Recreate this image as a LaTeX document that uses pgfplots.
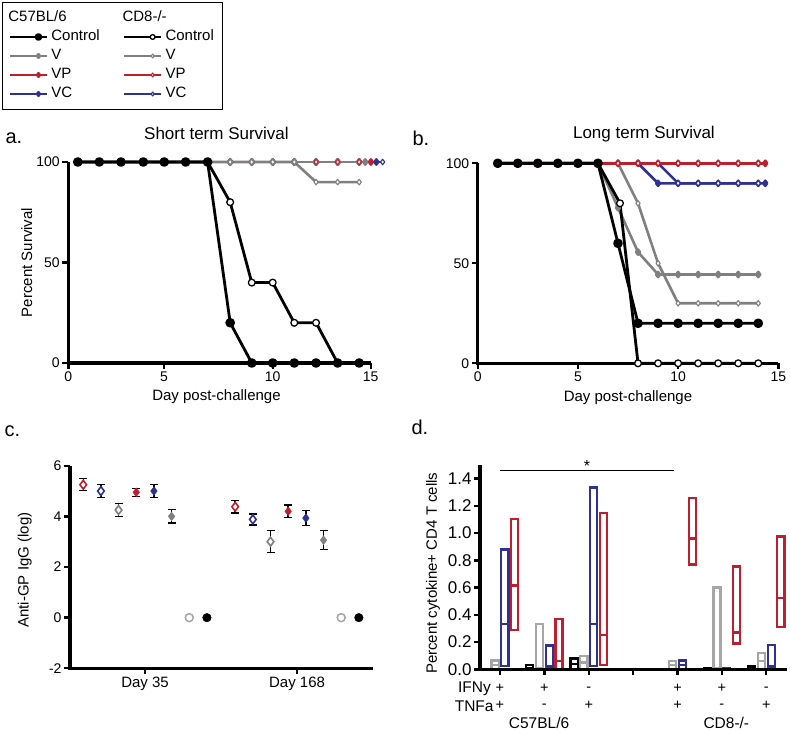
\documentclass[border=0pt]{standalone}
\usepackage{fontspec}
\setmainfont{Liberation Sans}
\usepackage{pgfplots}
\pgfplotsset{compat=1.18}
\usepgfplotslibrary{statistics}
\definecolor{cred}{RGB}{190,30,45}
\definecolor{cblue}{RGB}{46,49,146}
\definecolor{cgray}{RGB}{128,128,128}
\definecolor{lgray}{RGB}{166,166,166}
\newcommand{\fs}[1]{\fontsize{#1}{#1}\selectfont}

\pgfplotsset{
  panel/.style={
    scale only axis, clip=false,
    axis lines=left,
    axis line style={-},
    tick align=outside, major tick length=5pt,
    /pgf/number format/assume math mode=true,
    tick label style={font=\fs{14}},
    label style={font=\fs{15}},
  },
  fblack/.style={black, line width=2.8pt, line join=round, mark=*, mark size=3.4pt},
  oblack/.style={black, line width=2.8pt, line join=round, mark=*, mark size=3.4pt,
                 mark options={fill=white, line width=1.3pt}},
  fgray/.style={cgray, line width=2.6pt, line join=round, mark=diamond*, mark size=2.6pt},
  ogray/.style={cgray, line width=2.6pt, line join=round, mark=diamond*, mark size=2.8pt,
                mark options={fill=white, line width=1.1pt}},
  fred/.style={cred, line width=2.5pt, line join=round, mark=diamond*, mark size=2.6pt},
  ored/.style={cred, line width=2.5pt, line join=round, mark=diamond*, mark size=2.8pt,
               mark options={fill=white, line width=1.1pt}},
  fblue/.style={cblue, line width=2.5pt, line join=round, mark=diamond*, mark size=2.6pt},
  oblue/.style={cblue, line width=2.5pt, line join=round, mark=diamond*, mark size=2.8pt,
                mark options={fill=white, line width=1.1pt}},
  ebars/.style={error bars/.cd, y dir=both, y explicit,
                error bar style={black, line width=1.4pt},
                error mark options={rotate=90, black, line width=1.4pt, mark size=4pt}},
}

% heavy axis frame (left and bottom) with outward ticks
\newcommand{\frameaxes}[2]{%
  \draw[line width=3.2pt] (rel axis cs:0,1) -- (rel axis cs:0,0) -- (rel axis cs:1,0);
  \pgfplotsinvokeforeach{#1}{\draw[line width=2.4pt] (axis cs:##1,\pgfkeysvalueof{/pgfplots/ymin}) -- ++(0pt,-6pt);}
  \pgfplotsinvokeforeach{#2}{\draw[line width=2.4pt] (axis cs:\pgfkeysvalueof{/pgfplots/xmin},##1) -- ++(-6pt,0pt);}}

% box with median line: #1 colour, #2 position, #3 low, #4 median, #5 high
\newcommand{\bx}[5]{%
  \addplot[#1, line width=2.2pt, fill=white, boxplot/draw direction=y,
    boxplot prepared={draw position=#2, lower whisker=#3, lower quartile=#3,
      median=#4, upper quartile=#5, upper whisker=#5, box extend=0.16,
      whisker extend=0.16}] coordinates {};}

\begin{document}
\begin{tikzpicture}
\useasboundingbox (0pt,0pt) rectangle (790pt,731pt);

% ---------------- a. short term survival ----------------
\begin{axis}[panel, at={(68.3pt,368pt)}, anchor=south west,
  width=302.4pt, height=201pt,
  xmin=0, xmax=15, ymin=0, ymax=100,
  xtick={0,4.75,10.14,15}, xticklabels={0,5,10,15},
  ytick={0,50,100},
  xlabel={Day post-challenge}, ylabel={Percent Survival},
  xlabel style={at={(axis description cs:0.49,-0.169)}, anchor=center},
  ylabel style={at={(axis description cs:-0.137,0.5)}, anchor=center},
  title={Short term Survival},
  title style={at={(axis description cs:0.49,1.114)}, anchor=center, font=\fs{17}},
  legend columns=2, legend cell align=left,
  legend style={at={(axis description cs:-0.219,1.796)}, anchor=north west,
    draw=black, line width=1pt, inner sep=6pt, font=\fs{15},
    nodes={inner xsep=3pt, inner ysep=2.5pt, text height=11pt, text depth=3pt},
    /tikz/column 2/.style={column sep=20pt}},
  legend image code/.code={\path (-20pt,0pt) -- (0pt,0pt);
    \draw[mark repeat=2, mark phase=2] plot coordinates {(0pt,0pt) (8.5pt,0pt) (17pt,0pt)};},
]
\addlegendimage{empty legend}\addlegendentry{\hspace*{-43pt}C57BL/6}
\addlegendimage{empty legend}\addlegendentry{\hspace*{-43pt}CD8-/-}
\addlegendimage{fblack, mark size=2.4pt}\addlegendentry{Control}
\addlegendimage{oblack, mark size=2.4pt}\addlegendentry{Control}
\addlegendimage{fgray, mark size=1.8pt}\addlegendentry{V}
\addlegendimage{ogray, mark size=2pt}\addlegendentry{V}
\addlegendimage{fred, mark size=1.8pt}\addlegendentry{VP}
\addlegendimage{ored, mark size=2pt}\addlegendentry{VP}
\addlegendimage{fblue, mark size=1.8pt}\addlegendentry{VC}
\addlegendimage{oblue, mark size=2pt}\addlegendentry{VC}
\frameaxes{0,4.75,10.14,15}{0,50,100}

% CD8-/- VC
\addplot[oblue, forget plot] coordinates {(0.47,100)(1.54,100)(2.61,100)(3.72,100)(4.76,100)(5.82,100)(6.91,100)(8.03,100)(9.10,100)(10.14,100)(11.21,100)(12.29,100)(13.36,100)(14.43,100)(15.59,100)};
% C57BL/6 VC
\addplot[fblue, forget plot] coordinates {(0.47,100)(1.54,100)(2.61,100)(3.72,100)(4.76,100)(5.82,100)(6.91,100)(8.03,100)(9.10,100)(10.14,100)(11.21,100)(12.29,100)(13.36,100)(14.43,100)(15.28,100)};
% C57BL/6 VP
\addplot[fred, forget plot] coordinates {(0.47,100)(1.54,100)(2.61,100)(3.72,100)(4.76,100)(5.82,100)(6.91,100)(8.03,100)(9.10,100)(10.14,100)(11.21,100)(12.29,100)(13.36,100)(14.43,100)(15.01,100)};
% C57BL/6 V
\addplot[fgray, forget plot] coordinates {(0.47,100)(1.54,100)(2.61,100)(3.72,100)(4.76,100)(5.82,100)(6.91,100)(8.03,100)(9.10,100)(10.14,100)(11.21,100)(12.29,100)(13.36,100)(14.43,100)(14.73,100)};
% CD8-/- V
\addplot[ogray, forget plot] coordinates {(0.47,100)(1.54,100)(2.61,100)(3.72,100)(4.76,100)(5.82,100)(6.91,100)(8.03,100)(9.10,100)(10.14,100)(11.21,100)(12.29,90)(13.36,90)(14.43,90)};
% CD8-/- VP (visible points)
\addplot[ored, only marks, forget plot] coordinates {(12.29,100)(13.36,100)(14.43,100)};
% CD8-/- Control
\addplot[oblack, forget plot] coordinates {(0.47,100)(1.54,100)(2.61,100)(3.72,100)(4.76,100)(5.82,100)(6.91,100)(8.03,80)(9.10,40)(10.14,40)(11.21,20)(12.29,20)(13.36,0)(14.43,0)};
% C57BL/6 Control
\addplot[fblack, forget plot] coordinates {(0.47,100)(1.54,100)(2.61,100)(3.72,100)(4.76,100)(5.82,100)(6.91,100)(8.03,20)(9.10,0)(10.14,0)(11.21,0)(12.29,0)(13.36,0)(14.43,0)};
\end{axis}

% ---------------- b. long term survival ----------------
\begin{axis}[panel, at={(477.7pt,367.7pt)}, anchor=south west,
  width=300.6pt, height=200pt,
  xmin=0, xmax=15, ymin=0, ymax=100,
  xtick={0,5,10,15}, ytick={0,50,100},
  xlabel={Day post-challenge},
  xlabel style={at={(axis description cs:0.5,-0.17)}, anchor=center},
  title={Long term Survival},
  title style={at={(axis description cs:0.553,1.117)}, anchor=center, font=\fs{17}},
]
\frameaxes{0,5,10,15}{0,50,100}
\addplot[fblue] coordinates {(1,100)(2,100)(3,100)(4,100)(5,100)(6,100)(7,100)(8,100)(9,90)(10,90)(11,90)(12,90)(13,90)(14,90)(14.35,90)};
\addplot[oblue] coordinates {(1,100)(2,100)(3,100)(4,100)(5,100)(6,100)(7,100)(8,100)(9,100)(10,90)(11,90)(12,90)(13,90)(14,90)};
\addplot[fgray] coordinates {(1,100)(2,100)(3,100)(4,100)(5,100)(6,100)(7,77.8)(8,55.6)(9,44.4)(10,44.4)(11,44.4)(12,44.4)(13,44.4)(14,44.4)};
\addplot[ogray] coordinates {(1,100)(2,100)(3,100)(4,100)(5,100)(6,100)(7,100)(8,80)(9,50)(10,30)(11,30)(12,30)(13,30)(14,30)};
\addplot[fred] coordinates {(1,100)(2,100)(3,100)(4,100)(5,100)(6,100)(7,100)(8,100)(9,100)(10,100)(11,100)(12,100)(13,100)(14,100)(14.35,100)};
\addplot[ored] coordinates {(1,100)(2,100)(3,100)(4,100)(5,100)(6,100)(7,100)(8,100)(9,100)(10,100)(11,100)(12,100)(13,100)(14,100)};
\addplot[oblack] coordinates {(1,100)(2,100)(3,100)(4,100)(5,100)(6,100)(7.1,80)(8,0)(9,0)(10,0)(11,0)(12,0)(13,0)(14,0)};
\addplot[fblack] coordinates {(1,100)(2,100)(3,100)(4,100)(5,100)(6,100)(7,60)(8,20)(9,20)(10,20)(11,20)(12,20)(13,20)(14,20)};
\end{axis}

% ---------------- c. anti-GP IgG ----------------
\begin{axis}[panel, at={(70pt,62.7pt)}, anchor=south west,
  width=303pt, height=202.6pt,
  xmin=0.25, xmax=17.4, ymin=-2, ymax=6,
  xtick={4.5,13.1}, xticklabels={Day 35, Day 168},
  xticklabel style={font=\fs{15}},
  ytick={-2,0,2,4,6},
  ylabel={Anti-GP IgG (log)},
  ylabel style={at={(axis description cs:-0.149,0.485)}, anchor=center},
]
\frameaxes{4.5,13.1}{-2,0,2,4,6}
\addplot[only marks, mark=diamond*, mark size=4.4pt, mark options={draw=cred, fill=white, line width=1.6pt}, ebars]
  coordinates {(1,5.25) +- (0,0.24) (9.6,4.38) +- (0,0.24)};
\addplot[only marks, mark=diamond*, mark size=4.4pt, mark options={draw=cblue, fill=white, line width=1.6pt}, ebars]
  coordinates {(2,5.0) +- (0,0.25) (10.6,3.88) +- (0,0.22)};
\addplot[only marks, mark=diamond*, mark size=4.4pt, mark options={draw=cgray, fill=white, line width=1.6pt}, ebars]
  coordinates {(3,4.25) +- (0,0.25) (11.6,3.0) +- (0,0.43)};
\addplot[only marks, mark=diamond*, mark size=4.4pt, mark options={draw=cred, fill=cred}, ebars]
  coordinates {(4,4.95) +- (0,0.16) (12.6,4.2) +- (0,0.25)};
\addplot[only marks, mark=diamond*, mark size=4.4pt, mark options={draw=cblue, fill=cblue}, ebars]
  coordinates {(5,5.0) +- (0,0.25) (13.6,3.93) +- (0,0.3)};
\addplot[only marks, mark=diamond*, mark size=4.4pt, mark options={draw=cgray, fill=cgray}, ebars]
  coordinates {(6,4.0) +- (0,0.27) (14.6,3.06) +- (0,0.38)};
\addplot[only marks, mark=*, mark size=4pt, mark options={draw=lgray, fill=white, line width=1.5pt}]
  coordinates {(7,0) (15.6,0)};
\addplot[only marks, mark=*, mark size=4.3pt, mark options={draw=black, fill=black}]
  coordinates {(8,0) (16.6,0)};
\end{axis}

% ---------------- d. cytokine+ CD4 T cells ----------------
\begin{axis}[panel, at={(480pt,61.7pt)}, anchor=south west,
  width=306.7pt, height=204.3pt,
  xmin=0.55, xmax=7.46, ymin=0, ymax=1.5,
  xtick={1,2,3,4,5,6,7}, xticklabels={},
  ytick={0,0.2,0.4,0.6,0.8,1.0,1.2,1.4},
  yticklabel style={font=\fs{17}, /pgf/number format/.cd, fixed, fixed zerofill, precision=1},
  ylabel={Percent cytokine+ CD4 T cells},
  ylabel style={at={(axis description cs:-0.153,0.47)}, anchor=center},
]
\bx{black}{0.67}{0}{0}{0.005}
\bx{lgray}{0.89}{0.005}{0.03}{0.065}
\bx{cblue}{1.11}{0.025}{0.335}{0.88}
\bx{cred}{1.33}{0.29}{0.615}{1.105}
\bx{black}{1.67}{0}{0.01}{0.03}
\bx{lgray}{1.89}{0}{0.01}{0.33}
\bx{cblue}{2.11}{0}{0.02}{0.175}
\bx{cred}{2.33}{0.005}{0.06}{0.37}
\bx{black}{2.67}{0}{0.04}{0.08}
\bx{lgray}{2.89}{0.005}{0.05}{0.1}
\bx{cblue}{3.11}{0.025}{0.335}{1.335}
\bx{cred}{3.33}{0.03}{0.25}{1.15}
\bx{black}{4.67}{0}{0}{0.004}
\bx{lgray}{4.89}{0.005}{0.03}{0.06}
\bx{cblue}{5.11}{0.005}{0.03}{0.065}
\bx{cred}{5.33}{0.77}{0.96}{1.26}
\bx{black}{5.67}{0}{0}{0.01}
\bx{lgray}{5.89}{0}{0.01}{0.6}
\bx{cblue}{6.11}{0}{0}{0.01}
\bx{cred}{6.33}{0.19}{0.27}{0.755}
\bx{black}{6.67}{0}{0.01}{0.025}
\bx{lgray}{6.89}{0.005}{0.06}{0.12}
\bx{cblue}{7.11}{0.005}{0.02}{0.18}
\bx{cred}{7.33}{0.31}{0.525}{0.975}
\frameaxes{1,2,3,4,5,6,7}{0,0.2,0.4,0.6,0.8,1.0,1.2,1.4}
\draw[line width=1.8pt] (axis cs:1,1.46) -- (axis cs:4.92,1.46);
\node[anchor=base, font=\fs{16}] at (axis cs:2.96,1.455) {*};
\begin{scope}[every node/.style={inner sep=0pt, font=\fs{14.5}}]
\node[anchor=east, font=\fs{15.5}] at ([yshift=-19.5pt]axis cs:0.8,0) {IFNy};
\node[anchor=east, font=\fs{15.5}] at ([yshift=-36.5pt]axis cs:0.86,0) {TNFa};
\node at ([yshift=-19.5pt]axis cs:1,0) {+};
\node at ([yshift=-19.5pt]axis cs:2,0) {+};
\node at ([yshift=-19.5pt]axis cs:3,0) {-};
\node at ([yshift=-19.5pt]axis cs:5,0) {+};
\node at ([yshift=-19.5pt]axis cs:6,0) {+};
\node at ([yshift=-19.5pt]axis cs:7,0) {-};
\node at ([yshift=-36.5pt]axis cs:1,0) {+};
\node at ([yshift=-36.5pt]axis cs:2,0) {-};
\node at ([yshift=-36.5pt]axis cs:3,0) {+};
\node at ([yshift=-36.5pt]axis cs:5,0) {+};
\node at ([yshift=-36.5pt]axis cs:6,0) {-};
\node at ([yshift=-36.5pt]axis cs:7,0) {+};
\node[font=\fs{15.5}] at ([yshift=-53.5pt]axis cs:1.88,0) {C57BL/6};
\node[font=\fs{15.5}] at ([yshift=-53.5pt]axis cs:6.1,0) {CD8-/-};
\end{scope}
\end{axis}

% panel letters
\node[anchor=west, font=\fs{20}] at (2pt,593pt) {a.};
\node[anchor=west, font=\fs{20}] at (409pt,593pt) {b.};
\node[anchor=west, font=\fs{20}] at (1pt,300pt) {c.};
\node[anchor=west, font=\fs{20}] at (408pt,304pt) {d.};
\end{tikzpicture}
\end{document}
